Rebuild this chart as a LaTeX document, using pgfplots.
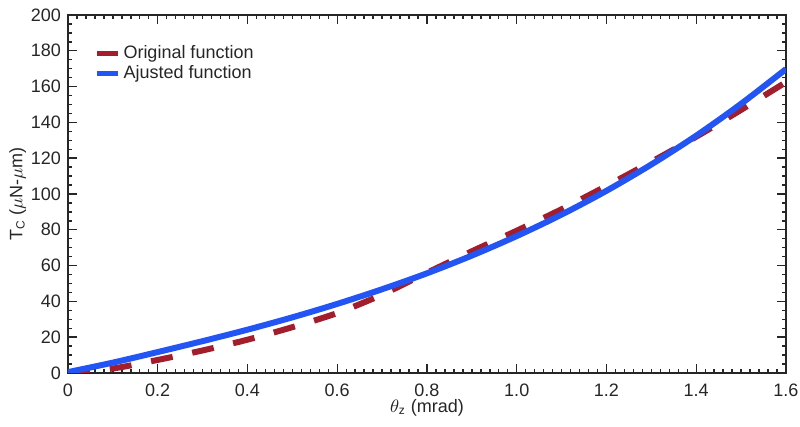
\documentclass[border=0pt]{standalone}
\usepackage{fontspec}
\setmainfont{Liberation Sans}
\usepackage{amsmath}
\usepackage{pgfplots}
\pgfplotsset{compat=1.18}
\definecolor{origred}{RGB}{162,30,45}
\definecolor{adjblue}{RGB}{35,85,245}
\definecolor{axgray}{RGB}{38,38,38}

\begin{document}
\begin{tikzpicture}[font=\fontsize{9}{11}\selectfont]
\useasboundingbox (-34pt,-27pt) rectangle (366pt,186.5pt);
\begin{axis}[
    scale only axis,
    width=359pt, height=179pt,
    xmin=0, xmax=1.6, ymin=0, ymax=200,
    xtick={0,0.2,0.4,0.6,0.8,1.0,1.2,1.4,1.6},
    xticklabels={0,0.2,0.4,0.6,0.8,1.0,1.2,1.4,1.6},
    ytick={0,20,40,60,80,100,120,140,160,180,200},
    minor x tick num=9, minor y tick num=3,
    tick align=inside,
    major tick length=4.5pt, minor tick length=2pt,
    axis line style={axgray, line width=0.8pt},
    every tick/.style={axgray, line width=0.7pt},
    tick label style={text=axgray},
    /pgf/number format/assume math mode=true,
    xticklabel style={yshift=-2pt},
    xlabel={$\theta_{\text{z}}$ (mrad)},
    ylabel={T$_{\text{C}}$ ($\mu$N-$\mu$m)},
    xlabel style={at={(axis description cs:0.5,0)}, anchor=base, yshift=-20pt, text=axgray},
    ylabel style={at={(axis description cs:-0.07,0.5)}, anchor=center, text=axgray},
    legend style={at={(axis description cs:0.028,0.935)}, anchor=north west,
        draw=none, fill=none, row sep=-1pt,
        nodes={inner sep=1.5pt, text=axgray}},
    legend cell align=left,
    legend image code/.code={\draw[#1, solid, line width=2.5pt] (0pt,0pt) -- (10.5pt,0pt);},
]
\addplot[origred, line width=3pt, dash pattern=on 11pt off 10pt, smooth] coordinates {
    (0,0) (0.1,2.5) (0.2,7.3) (0.3,12.6) (0.4,18.6) (0.5,25.6) (0.6,33.5)
    (0.7,43.8) (0.8,56) (0.9,68) (1.0,79.5) (1.1,91.5) (1.2,104.5)
    (1.3,118) (1.4,132) (1.5,147) (1.6,162.5)
};
\addlegendentry{Original function}
\addplot[adjblue, line width=3pt, smooth] coordinates {
    (0,0.5) (0.1,5.8) (0.2,11.7) (0.3,17.8) (0.4,24.2) (0.5,31.1) (0.6,38.6)
    (0.7,46.8) (0.8,55.7) (0.9,65.6) (1.0,76.5) (1.1,88.5) (1.2,101.8)
    (1.3,116.5) (1.4,132.6) (1.5,150.4) (1.6,169.8)
};
\addlegendentry{Ajusted function}
\end{axis}
\end{tikzpicture}
\end{document}
